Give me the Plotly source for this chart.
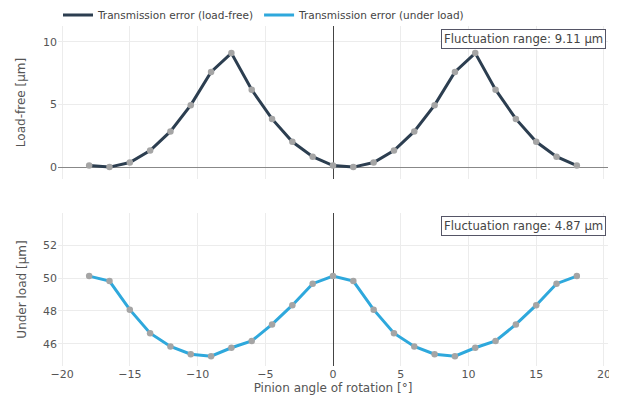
import plotly.graph_objects as go
from plotly.subplots import make_subplots

angle = [-18, -16.5, -15, -13.5, -12, -10.5, -9, -7.5, -6, -4.5, -3, -1.5,
         0, 1.5, 3, 4.5, 6, 7.5, 9, 10.5, 12, 13.5, 15, 16.5, 18]
load_free = [0.12, 0.0, 0.37, 1.32, 2.85, 4.95, 7.6, 9.11, 6.18, 3.85, 2.02, 0.83,
             0.12, 0.0, 0.37, 1.32, 2.85, 4.95, 7.6, 9.11, 6.18, 3.85, 2.02, 0.83, 0.12]
under_load = [50.12, 49.82, 48.08, 46.65, 45.84, 45.37, 45.25, 45.76, 46.17, 47.18, 48.35, 49.66,
              50.12, 49.82, 48.08, 46.65, 45.84, 45.37, 45.25, 45.76, 46.17, 47.18, 48.35, 49.66, 50.12]
range_free = "Fluctuation range: 9.11 μm"
range_load = "Fluctuation range: 4.87 μm"

FONT = "DejaVu Sans, Verdana, sans-serif"
TXT = "#555"

fig = make_subplots(rows=2, cols=1, shared_xaxes=True, vertical_spacing=0.1)

series = [
    (load_free, "Transmission error (load-free)", "#2c3e50", 1),
    (under_load, "Transmission error (under load)", "#2ea8dc", 2),
]
for vals, name, color, row in series:
    fig.add_trace(go.Scatter(x=angle, y=vals, mode="lines", name=name,
                             line=dict(color=color, width=3)), row=row, col=1)
    fig.add_trace(go.Scatter(x=angle, y=vals, mode="markers", showlegend=False,
                             hoverinfo="skip",
                             marker=dict(color="#a5a5a5", size=6.5)), row=row, col=1)

tickfont = dict(family=FONT, size=11, color=TXT)
titlefont = dict(family=FONT, size=12, color=TXT)

fig.update_xaxes(range=[-20.3, 20.3], dtick=5, zeroline=True, zerolinecolor="#444",
                 zerolinewidth=1, gridcolor="#ececec", showticklabels=False,
                 tickfont=tickfont, row=1, col=1)
fig.update_xaxes(range=[-20.3, 20.3], dtick=5, zeroline=True, zerolinecolor="#444",
                 zerolinewidth=1, gridcolor="#ececec", tickfont=tickfont,
                 title=dict(text="Pinion angle of rotation [°]", standoff=0, font=titlefont),
                 row=2, col=1)
fig.update_yaxes(range=[-0.95, 11.27], tickvals=[0, 5, 10], zeroline=True,
                 zerolinecolor="#888", zerolinewidth=1, gridcolor="#ececec",
                 tickfont=tickfont,
                 title=dict(text="Load-free [μm]", font=titlefont, standoff=14),
                 row=1, col=1)
fig.update_yaxes(range=[44.65, 53.96], tickvals=[46, 48, 50, 52], zeroline=False,
                 gridcolor="#ececec", tickfont=tickfont,
                 title=dict(text="Under load [μm]", font=titlefont, standoff=13),
                 row=2, col=1)

for xr, yr, txt in [("x domain", "y domain", range_free), ("x2 domain", "y2 domain", range_load)]:
    fig.add_annotation(text=txt, xref=xr, yref=yr, x=1, y=1, xshift=-2, yshift=-3,
                       xanchor="right", yanchor="top", showarrow=False,
                       bordercolor="#556", borderwidth=1, borderpad=2, bgcolor="white",
                       font=dict(family=FONT, size=11.7, color="#444"))

fig.update_layout(
    width=617, height=401,
    template="plotly_white",
    margin=dict(l=50, r=17, t=18, b=43, autoexpand=False),
    font=dict(family=FONT, color=TXT),
    showlegend=True,
    legend=dict(orientation="h", x=0, y=0.99, xanchor="left", yanchor="bottom",
                bgcolor="rgba(0,0,0,0)",
                font=dict(family=FONT, size=10.5, color="#444"), tracegroupgap=0),
    plot_bgcolor="white", paper_bgcolor="white",
)

fig.write_html("out.html")
